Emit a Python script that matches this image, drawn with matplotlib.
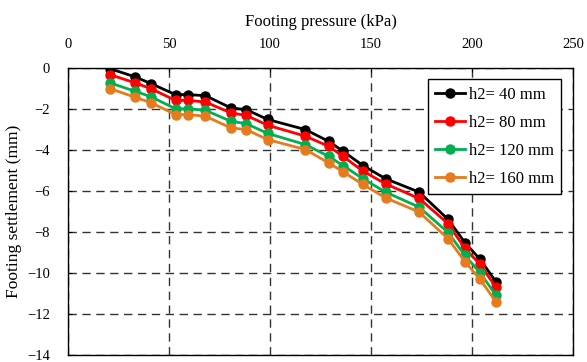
import matplotlib
matplotlib.use("Agg")
import matplotlib.pyplot as plt

pressure = [20.8, 33.3, 41.2, 53.2, 59.4, 68.0, 80.7, 88.2, 98.9, 117.5, 129.0,
            136.1, 146.0, 157.2, 173.8, 188.2, 196.5, 204.0, 211.9]
s_40 = [-0.05, -0.45, -0.78, -1.31, -1.31, -1.36, -1.96, -2.04, -2.52, -3.01, -3.58,
        -4.06, -4.76, -5.40, -6.05, -7.38, -8.51, -9.32, -10.42]
s_80 = [-0.34, -0.74, -1.03, -1.59, -1.59, -1.67, -2.20, -2.32, -2.80, -3.33, -3.82,
        -4.31, -5.03, -5.65, -6.36, -7.59, -8.79, -9.56, -10.69]
s_120 = [-0.74, -1.15, -1.42, -2.00, -2.00, -2.07, -2.61, -2.72, -3.20, -3.74, -4.31,
         -4.76, -5.40, -6.05, -6.78, -8.02, -9.13, -9.97, -11.07]
s_160 = [-1.02, -1.44, -1.71, -2.28, -2.28, -2.36, -2.93, -3.01, -3.50, -3.98, -4.63,
         -5.06, -5.68, -6.33, -7.02, -8.32, -9.43, -10.29, -11.39]
labels = ["h2= 40 mm", "h2= 80 mm", "h2= 120 mm", "h2= 160 mm"]
colors = ["#000000", "#FF0000", "#00B050", "#E87A1E"]
x_ticks = [0, 50, 100, 150, 200, 250]
y_ticks = [0, -2, -4, -6, -8, -10, -12, -14]

plt.rcParams['font.family'] = ['Liberation Serif', 'DejaVu Serif']

fig = plt.figure(figsize=(5.87, 3.62), dpi=100)
ax = fig.add_axes([0.116, 0.018, 0.860, 0.795])

for s, lab, c in zip([s_40, s_80, s_120, s_160], labels, colors):
    ax.plot(pressure, s, color=c, marker='o', markersize=6.5, linewidth=2, label=lab)

ax.set_xlim(0, 250)
ax.set_ylim(-14, 0)
ax.set_xticks(x_ticks)
ax.set_yticks(y_ticks)
ax.xaxis.tick_top()
ax.xaxis.set_label_position('top')
ax.tick_params(axis='both', labelsize=10.5, direction='in', length=3, color='black')
ax.tick_params(axis='x', pad=12)
ax.tick_params(axis='y', pad=13)
ax.set_xlabel("Footing pressure (kPa)", fontsize=12, labelpad=9)
ax.set_ylabel("Footing settlement (mm)", fontsize=12.5, labelpad=4)
ax.grid(True, color='#333333', linestyle=(0, (6, 4)), linewidth=1)
for sp in ax.spines.values():
    sp.set_color('black')
    sp.set_linewidth(1)

leg = ax.legend(loc='upper right', fontsize=12, frameon=True, fancybox=False,
                edgecolor='black', framealpha=1, borderaxespad=0.7,
                handlelength=1.8, labelspacing=0.72, borderpad=0.45, handletextpad=0.2)
leg.get_frame().set_linewidth(1)

fig.savefig("out.png", dpi=100)
